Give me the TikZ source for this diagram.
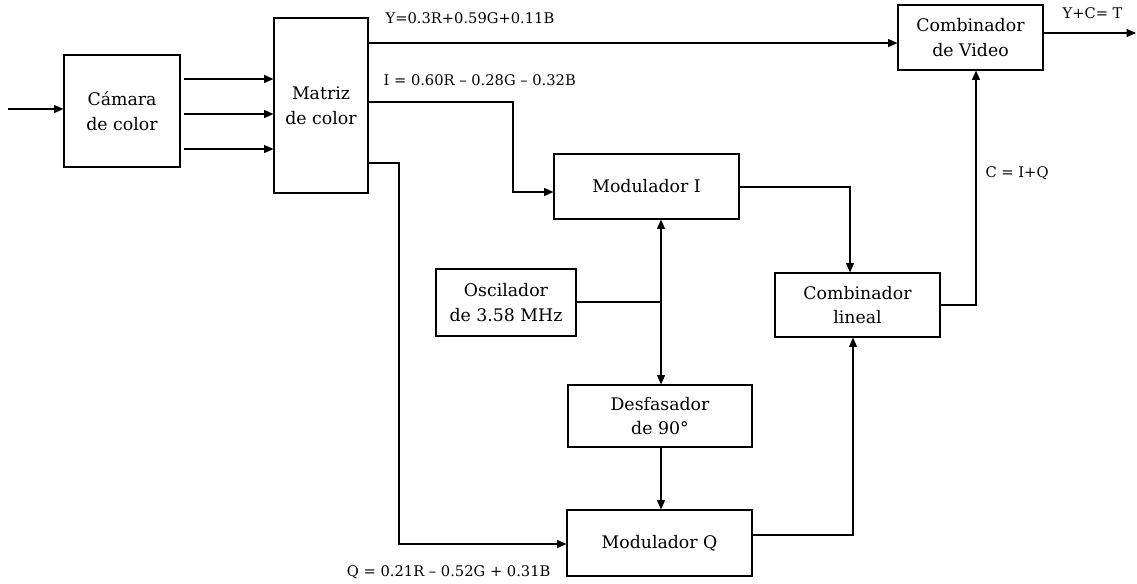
\documentclass[tikz,border=0pt]{standalone}
\usepackage{fontspec}
\setmainfont{DejaVu Serif}
\usetikzlibrary{arrows.meta}
\begin{document}
\begin{tikzpicture}[x=0.75pt,y=-0.75pt,
  line width=0.9pt,
  blk/.style={draw, line width=0.9pt, align=center, inner sep=0pt,
    font=\fontsize{13}{18.5}\selectfont},
  lbl/.style={inner sep=0pt, font=\fontsize{11}{12}\selectfont},
  arr/.style={-{Triangle[length=7pt,width=6pt]}}]
\useasboundingbox (0,0) rectangle (1137,583);

% blocks
\node[blk, minimum width=116*0.75pt, minimum height=112*0.75pt] (cam) at (122,111) {Cámara\\de color};
\node[blk, minimum width=94*0.75pt, minimum height=175*0.75pt] (mat) at (321,105.5) {Matriz\\de color};
\node[blk, minimum width=145*0.75pt, minimum height=65*0.75pt] (vid) at (970.5,37.5) {Combinador\\de Video};
\node[blk, minimum width=185*0.75pt, minimum height=65*0.75pt] (modi) at (646.5,186.5) {Modulador I};
\node[blk, minimum width=140*0.75pt, minimum height=67*0.75pt] (osc) at (506,302.5) {Oscilador\\de 3.58 MHz};
\node[blk, minimum width=165*0.75pt, minimum height=64*0.75pt] (lin) at (857.5,305) {Combinador\\lineal};
\node[blk, minimum width=184*0.75pt, minimum height=62*0.75pt] (des) at (660,416) {Desfasador\\de 90°};
\node[blk, minimum width=185*0.75pt, minimum height=66*0.75pt] (modq) at (659.5,543) {Modulador Q};

% labels
\node[lbl, anchor=west] (ly) at (385,18) {Y=0.3R+0.59G+0.11B};
\node[lbl, anchor=west] (li) at (383,80) {I = 0.60R – 0.28G – 0.32B};
\node[lbl, anchor=east] (lq) at (551,572) {Q = 0.21R – 0.52G + 0.31B};
\node[lbl, anchor=west] (lt) at (1062,13) {Y+C= T};
\node[lbl, anchor=west] (lc) at (985,173) {C = I+Q};

% free ends and bends
\coordinate (in) at (8,109);
\coordinate (out) at (1136,33);
\coordinate (jn) at (661,302);

% input and camera outputs
\draw[arr] (in) -- (cam.west |- in);
\foreach \yy in {79,114,149}
  \draw[arr] ([xshift=2.5pt]cam.east |- 0,\yy) -- (mat.west |- 0,\yy);

% luminance
\draw[arr] (mat.east |- 0,43) -- (vid.west |- 0,43);
% I channel
\draw[arr] (mat.east |- 0,102) -| (513,192) -- (modi.west |- 0,192);
% Q channel
\draw[arr] (mat.east |- 0,163) -| (399,544) -- (modq.west |- 0,544);

% oscillator
\draw (osc.east |- jn) -- (jn);
\draw[arr] (jn) -- (modi.south -| jn);
\draw[arr] (jn) -- (des.north -| jn);
\draw[arr] (des.south -| jn) -- (modq.north -| jn);

% linear combiner
\draw[arr] (modi.east |- 0,187) -| (lin.north -| 850,0);
\draw[arr] (modq.east |- 0,535) -| (lin.south -| 853,0);
\draw[arr] (lin.east) -| (vid.south -| 976,0);

% output
\draw[arr] (vid.east |- out) -- (out);
\end{tikzpicture}
\end{document}
